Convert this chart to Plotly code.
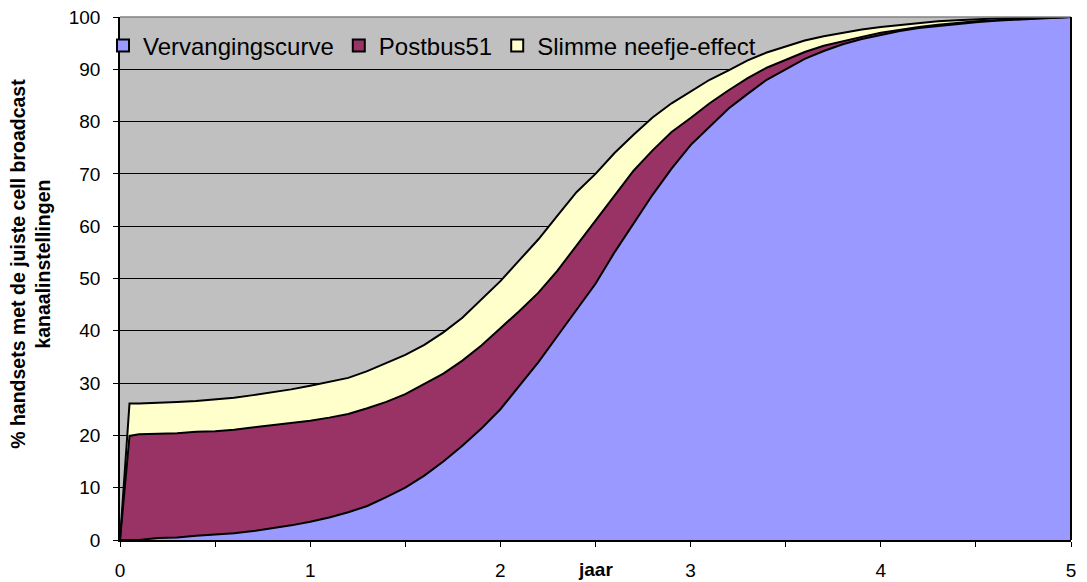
import plotly.graph_objects as go

# x in years
jaar = [0, 0.05, 0.1, 0.2, 0.3, 0.4, 0.5, 0.6, 0.7, 0.8, 0.9,
        1.0, 1.1, 1.2, 1.3, 1.4, 1.5, 1.6, 1.7, 1.8, 1.9,
        2.0, 2.1, 2.2, 2.3, 2.4, 2.5, 2.6, 2.7, 2.8, 2.9,
        3.0, 3.1, 3.2, 3.3, 3.4, 3.5, 3.6, 3.7, 3.8, 3.9,
        4.0, 4.1, 4.2, 4.3, 4.4, 4.5, 4.6, 4.7, 4.8, 4.9, 5.0]

# Cumulative tops (stacked)
vervangingscurve = [0, 0, 0, 0.4, 0.5, 0.8, 1.0, 1.3, 1.7, 2.2, 2.8,
                    3.5, 4.3, 5.3, 6.5, 8.2, 10.0, 12.3, 15.0, 18.0, 21.3,
                    25.0, 29.5, 34.0, 39.0, 44.0, 49.0, 55.0, 60.5, 66.0, 71.0,
                    75.5, 79.0, 82.5, 85.3, 88.0, 90.0, 92.0, 93.5, 94.8, 95.8,
                    96.6, 97.3, 97.9, 98.3, 98.7, 99.0, 99.3, 99.5, 99.7, 99.8, 100]

postbus51_top = [0, 19.9, 20.2, 20.3, 20.4, 20.7, 20.8, 21.1, 21.5, 21.9, 22.4,
                 22.8, 23.4, 24.1, 25.2, 26.4, 27.9, 29.8, 31.8, 34.3, 37.2,
                 40.5, 43.8, 47.3, 51.5, 56.3, 61.0, 65.8, 70.6, 74.5, 78.0,
                 80.7, 83.5, 86.0, 88.3, 90.3, 91.8, 93.3, 94.5, 95.4, 96.2,
                 97.0, 97.6, 98.1, 98.5, 98.9, 99.2, 99.4, 99.6, 99.75, 99.85, 100]

neefje_top = [0, 26.1, 26.1, 26.2, 26.4, 26.6, 26.9, 27.2, 27.7, 28.2, 28.8,
              29.5, 30.2, 31.0, 32.3, 33.8, 35.4, 37.3, 39.7, 42.5, 46.0,
              49.5, 53.5, 57.5, 62.0, 66.5, 70.0, 74.0, 77.5, 80.8, 83.5,
              85.8, 88.0, 89.8, 91.7, 93.2, 94.4, 95.5, 96.3, 97.0, 97.6,
              98.1, 98.5, 98.9, 99.2, 99.4, 99.6, 99.7, 99.8, 99.9, 99.95, 100]

series_names = ["Vervangingscurve", "Postbus51", "Slimme neefje-effect"]
series_colors = ["#9999FF", "#993366", "#FFFFCC"]
x_ticks = [0, 1, 2, 3, 4, 5]
y_ticks = [0, 10, 20, 30, 40, 50, 60, 70, 80, 90, 100]

FONT = "Arial, Liberation Sans, sans-serif"
W, H = 1079, 574  # page body has an 8px margin

fig = go.Figure()
tops = [vervangingscurve, postbus51_top, neefje_top]
fills = ["tozeroy", "tonexty", "tonexty"]
for name, col, top, fl in zip(series_names, series_colors, tops, fills):
    fig.add_trace(go.Scatter(
        x=jaar, y=top, mode="lines", name=name, fill=fl, fillcolor=col,
        line=dict(color="black", width=2), showlegend=False, hoverinfo="x+y+name"))

# legend entries with square symbols
for name, col in zip(series_names, series_colors):
    fig.add_trace(go.Scatter(
        x=[None], y=[None], mode="markers", name=name,
        marker=dict(symbol="square", size=14, color=col, line=dict(color="black", width=1.5))))

fig.update_layout(
    width=W, height=H,
    margin=dict(l=112, r=16, t=9, b=42, autoexpand=False),
    paper_bgcolor="white", plot_bgcolor="#C0C0C0",
    font=dict(family=FONT, size=19, color="black"),
    showlegend=True,
    legend=dict(orientation="h", xref="container", yref="container",
                x=95 / W, xanchor="left", y=1 - 38 / H, yanchor="middle",
                traceorder="normal",
                bgcolor="rgba(0,0,0,0)", font=dict(size=24, family=FONT),
                itemsizing="constant", tracegroupgap=0),
    xaxis=dict(range=[0, 5], tickvals=x_ticks, ticks="outside", ticklen=5, tickcolor="black",
               showgrid=False, zeroline=False, showline=True, linecolor="black", linewidth=1.5,
               ticklabelstandoff=7, ticklabeloverflow="allow",
               minor=dict(dtick=0.5, tick0=0, ticks="outside", ticklen=5, tickcolor="black", showgrid=False)),
    yaxis=dict(range=[0, 100], tickvals=y_ticks, ticks="outside", ticklen=5, tickcolor="black",
               showgrid=True, gridcolor="black", gridwidth=1, zeroline=False,
               showline=True, linecolor="black", linewidth=1.5, ticklabelstandoff=9,
               ticklabeloverflow="allow"),
    shapes=[
        dict(type="line", xref="paper", yref="paper", x0=0, x1=1, y0=1, y1=1,
             line=dict(color="#808080", width=1.5)),
        dict(type="line", xref="paper", yref="paper", x0=1, x1=1, y0=0, y1=1,
             line=dict(color="black", width=2)),
    ],
    annotations=[
        dict(text="<b>jaar</b>", x=2.5, xref="x", y=0, yref="paper", yanchor="top",
             yshift=-17, showarrow=False, font=dict(size=19, family=FONT)),
        dict(text="<b>% handsets met de juiste cell broadcast<br>kanaalinstellingen</b>",
             x=(31 - 120) / 951, xref="paper", y=0.528, yref="paper", textangle=-90,
             xanchor="center", yanchor="middle", showarrow=False,
             font=dict(size=19.5, family=FONT)),
    ],
)

fig.write_html("out.html")
